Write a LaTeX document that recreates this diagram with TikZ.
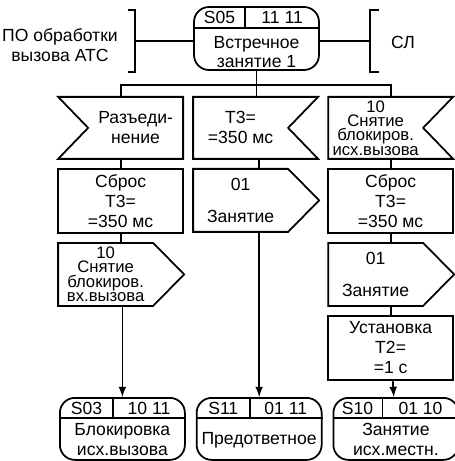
\documentclass[tikz,border=0pt]{standalone}
\usepackage{fontspec}
\setmainfont{Liberation Sans}
\usepackage{tikz}
\usetikzlibrary{arrows, positioning}

\begin{document}
\begin{tikzpicture}[
    node distance=0.2cm,
    line width=1pt,
    font=\fontsize{10}{11.3}\selectfont,
    state/.style={rectangle, draw, rounded corners=0.3cm, minimum width=2.5cm, minimum height=1.26cm},
    statetext/.style={align=center, inner sep=0pt},
    inwest/.style={rectangle, minimum width=1.9cm, minimum height=1.24cm, align=center, inner sep=0.5pt, outer sep=0pt,
        append after command={\pgfextra{\draw (\tikzlastnode.north east) -- ([xshift=-0.6cm]\tikzlastnode.north west) -- (\tikzlastnode.west) -- ([xshift=-0.6cm]\tikzlastnode.south west) -- (\tikzlastnode.south east) -- cycle;}}},
    ineast/.style={rectangle, minimum width=1.9cm, minimum height=1.24cm, align=center, inner sep=0.5pt, outer sep=0pt,
        append after command={\pgfextra{\draw (\tikzlastnode.north west) -- ([xshift=0.6cm]\tikzlastnode.north east) -- (\tikzlastnode.east) -- ([xshift=0.6cm]\tikzlastnode.south east) -- (\tikzlastnode.south west) -- cycle;}}},
    output/.style={rectangle, minimum width=1.9cm, minimum height=1.26cm, align=center, inner sep=0.5pt, outer sep=0pt,
        append after command={\pgfextra{\draw (\tikzlastnode.north west) -- (\tikzlastnode.north east) -- ([xshift=0.62cm]\tikzlastnode.east) -- (\tikzlastnode.south east) -- (\tikzlastnode.south west) -- cycle;}}},
    task/.style={rectangle, draw, minimum width=2.5cm, minimum height=1.28cm, align=center, inner sep=0.5pt, outer sep=0pt},
    tight/.style={font=\fontsize{9.5}{8.2}\selectfont},
    arrow/.style={line width=1pt,->,>=latex}
]
\useasboundingbox (0,0) rectangle (9.08,-9.22);

% Start state
\node [state] (s05) at (5.13,-0.77) {};
\node [statetext] (s05-text) at ([yshift=-0.27cm]s05.center) {Встречное\\занятие 1};
\draw ([yshift=-0.44cm]s05.north west) -- ([yshift=-0.44cm]s05.north east);
\draw ([xshift=1.04cm]s05.north west) -- ([xshift=1.04cm,yshift=-0.44cm]s05.north west);
\node (s05-id) at ([xshift=0.53cm,yshift=-0.23cm]s05.north west) {S05};
\node (s05-code) at ([xshift=1.78cm,yshift=-0.23cm]s05.north west) {11 11};

% Environment
\node [align=center] (po) at (1.2,-0.9) {ПО обработки\\вызова АТС};
\node (sl) at (8.06,-0.84) {СЛ};
\coordinate (lbr) at (2.70,-0.82);
\coordinate (rbr) at (7.40,-0.82);
\draw ([shift={(-0.14,0.62)}]lbr) -- ++(0.14,0) -- ++(0,-1.24) -- ++(-0.14,0);
\draw ([shift={(0.18,0.62)}]rbr) -- ++(-0.18,0) -- ++(0,-1.24) -- ++(0.18,0);
\draw (lbr) -- (lbr -| s05.west);
\draw (rbr) -- (rbr -| s05.east);

% Inputs
\node [ineast, below=0.52cm of s05.south west, anchor=north west] (in2) {Т3=\\=350 мс};
\node [inwest, left=of in2] (in1) {Разъеди-\\нение};
\node [ineast, tight, right=0.8cm of in2] (in3) {10\\Снятие\\блокиров.\\исх.вызова};

% Column 1
\node [task, below=of in1.south east, anchor=north east] (task1) {Сброс\\Т3=\\=350 мс};
\node [output, tight, below=of task1.south west, anchor=north west] (out1) {10\\Снятие\\блокиров.\\вх.вызова};

% Column 2
\node [output, below=of in2.south west, anchor=north west] (out2) {01\\[7pt]Занятие};

% Column 3
\node [task, below=of in3.south west, anchor=north west] (task3) {Сброс\\Т3=\\=350 мс};
\node [output, below=of task3.south west, anchor=north west] (out3) {01\\[7pt]Занятие};
\node [task, below=of out3.south west, anchor=north west] (task4) {Установка\\Т2=\\=1 с};

% Next states
\node [state, anchor=north west, minimum height=1.24cm] (s03) at (1.18,-7.94) {};
\node [state, minimum height=1.24cm, right=of s03] (s11) {};
\node [state, minimum height=1.24cm, right=of s11] (s10) {};

\node [statetext] (s03-text) at ([yshift=-0.22cm]s03.center) {Блокировка\\исх.вызова};
\draw ([yshift=-0.42cm]s03.north west) -- ([yshift=-0.42cm]s03.north east);
\draw ([xshift=1.08cm]s03.north west) -- ([xshift=1.08cm,yshift=-0.42cm]s03.north west);
\node (s03-id) at ([xshift=0.55cm,yshift=-0.22cm]s03.north west) {S03};
\node (s03-code) at ([xshift=1.8cm,yshift=-0.22cm]s03.north west) {10 11};

\node [statetext] (s11-text) at ([yshift=-0.22cm]s11.center) {Предответное};
\draw ([yshift=-0.42cm]s11.north west) -- ([yshift=-0.42cm]s11.north east);
\draw ([xshift=1.08cm]s11.north west) -- ([xshift=1.08cm,yshift=-0.42cm]s11.north west);
\node (s11-id) at ([xshift=0.55cm,yshift=-0.22cm]s11.north west) {S11};
\node (s11-code) at ([xshift=1.8cm,yshift=-0.22cm]s11.north west) {01 11};

\node [statetext] (s10-text) at ([yshift=-0.22cm]s10.center) {Занятие\\исх.местн.};
\draw ([yshift=-0.42cm]s10.north west) -- ([yshift=-0.42cm]s10.north east);
\draw ([xshift=1.0cm]s10.north west) -- ([xshift=1.0cm,yshift=-0.42cm]s10.north west);
\node (s10-id) at ([xshift=0.5cm,yshift=-0.22cm]s10.north west) {S10};
\node (s10-code) at ([xshift=1.76cm,yshift=-0.22cm]s10.north west) {01 10};

% Connectors
\draw (s05.south) -- ++(0,-0.28) coordinate (fork);
\draw (in1.north -| task1.north) |- (fork) -| (in3.north -| task3.north);
\draw (fork) -- (in2.north -| fork);
\draw (in1.south -| task1.north) -- (task1.north);
\draw (task1.south) -- (task1.south |- out1.north);
\draw (in2.south -| s11.north) -- (out2.north -| s11.north);
\draw (in3.south -| task3.north) -- (task3.north);
\draw (task3.south) -- (task3.south |- out3.north);
\draw (out3.south -| task4.north) -- (task4.north);
\draw [arrow] (out1.south -| s03.north) -- (s03.north);
\draw [arrow] (out2.south -| s11.north) -- (s11.north);
\draw [arrow] (task4) -- (s10);

\end{tikzpicture}
\end{document}
